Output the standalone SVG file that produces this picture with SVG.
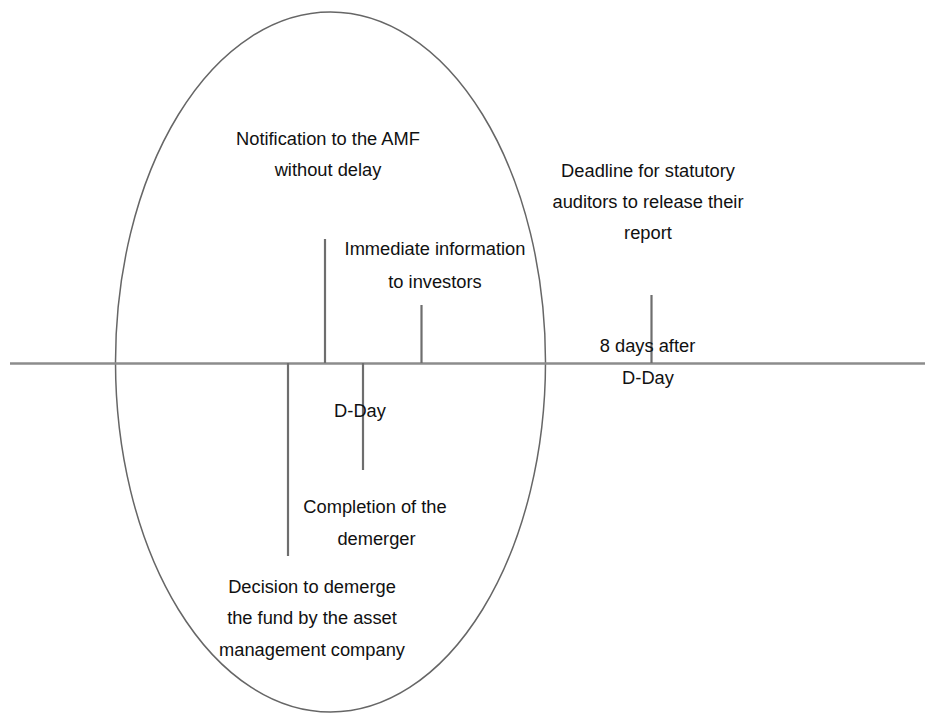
<svg xmlns="http://www.w3.org/2000/svg" width="925" height="713" viewBox="0 0 925 713">
<style>
.ln{stroke:#6e6e6e;stroke-width:2.2;fill:none}
.ax{stroke:#8c8c8c;stroke-width:2.5;fill:none}
.el{stroke:#666;stroke-width:1.5;fill:none}
text{font-family:"Liberation Sans",Arial,sans-serif;font-size:18.3px;fill:#111;text-anchor:middle}
</style>
<rect width="925" height="713" fill="#fff"/>
<g id="connectors">
<ellipse class="el" cx="330.5" cy="362" rx="215" ry="350"/>
<line class="ax" x1="10" y1="363.5" x2="925" y2="363.5"/>
<line class="ln" x1="325" y1="239" x2="325" y2="363"/>
<line class="ln" x1="421.5" y1="305" x2="421.5" y2="363"/>
<line class="ln" x1="288" y1="363" x2="288" y2="556"/>
<line class="ln" x1="363" y1="363" x2="363" y2="470"/>
<line class="ln" x1="651.5" y1="295" x2="651.5" y2="363"/>
</g>
<g id="notification"><text x="328" y="145">Notification to the AMF</text><text x="328" y="176">without delay</text></g>
<g id="deadline"><text x="648" y="177">Deadline for statutory</text><text x="648" y="208">auditors to release their</text><text x="648" y="239">report</text></g>
<g id="immediate"><text x="435" y="255">Immediate information</text><text x="435" y="288">to investors</text></g>
<g id="eightdays"><text x="647.5" y="352">8 days after</text><text x="648" y="384">D-Day</text></g>
<g id="dday"><text x="360" y="416.5">D-Day</text></g>
<g id="completion"><text x="375" y="513">Completion of the</text><text x="376.5" y="545">demerger</text></g>
<g id="decision"><text x="312" y="593">Decision to demerge</text><text x="312" y="624">the fund by the asset</text><text x="312" y="656">management company</text></g>
</svg>
